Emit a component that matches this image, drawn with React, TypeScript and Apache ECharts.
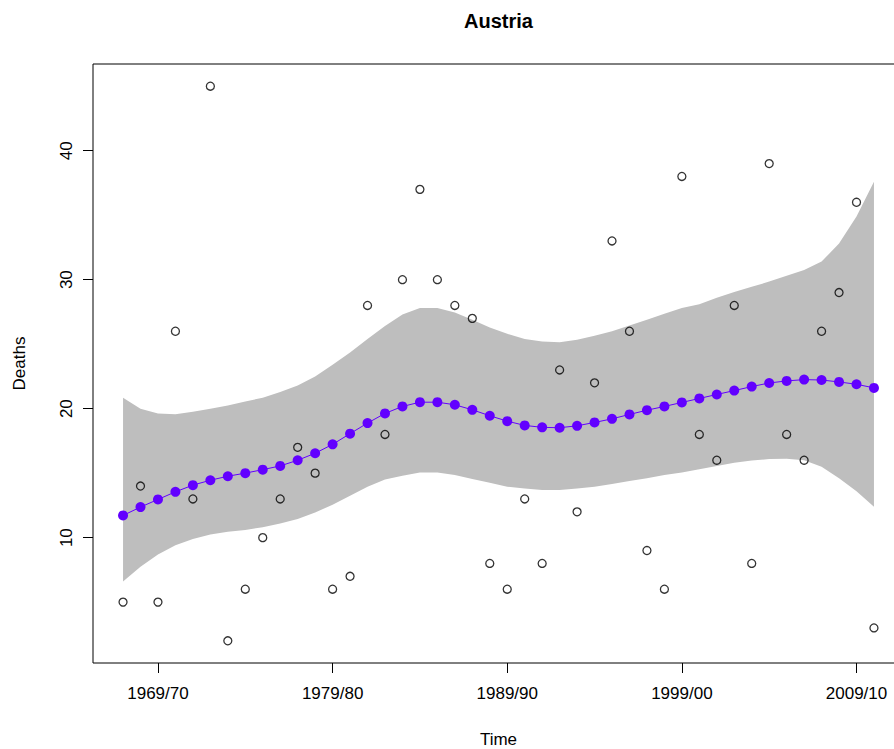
import React, { useEffect, useRef } from "react";
import * as echarts from "echarts";

const years = [
  1967, 1968, 1969, 1970, 1971, 1972, 1973, 1974, 1975, 1976, 1977, 1978, 1979, 1980, 1981,
  1982, 1983, 1984, 1985, 1986, 1987, 1988, 1989, 1990, 1991, 1992, 1993, 1994, 1995, 1996,
  1997, 1998, 1999, 2000, 2001, 2002, 2003, 2004, 2005, 2006, 2007, 2008, 2009, 2010,
];

const deaths = [
  5, 14, 5, 26, 13, 45, 2, 6, 10, 13, 17, 15, 6, 7, 28, 18, 30, 37, 30, 28, 27, 8, 6, 13, 8, 23,
  12, 22, 33, 26, 9, 6, 38, 18, 16, 28, 8, 39, 18, 16, 26, 29, 36, 3,
];

const fitted = [
  11.72, 12.37, 12.96, 13.55, 14.07, 14.45, 14.76, 15.0, 15.27, 15.56, 16.0, 16.54, 17.23,
  18.06, 18.88, 19.63, 20.17, 20.5, 20.5, 20.3, 19.91, 19.45, 19.03, 18.7, 18.55, 18.52, 18.67,
  18.93, 19.21, 19.55, 19.88, 20.17, 20.48, 20.79, 21.1, 21.4, 21.71, 21.99, 22.15, 22.25,
  22.22, 22.07, 21.89, 21.61,
];

const upper = [
  20.85, 20.0, 19.63, 19.57, 19.75, 20.0, 20.25, 20.55, 20.85, 21.3, 21.8, 22.5, 23.4, 24.35,
  25.4, 26.4, 27.3, 27.8, 27.8, 27.45, 26.9, 26.3, 25.8, 25.4, 25.2, 25.15, 25.35, 25.65, 26.0,
  26.45, 26.9, 27.35, 27.8, 28.1, 28.6, 29.05, 29.45, 29.85, 30.3, 30.75, 31.4, 32.8, 34.9, 37.6,
];

const lower = [
  6.6, 7.75, 8.7, 9.4, 9.9, 10.25, 10.45, 10.6, 10.8, 11.1, 11.45, 11.95, 12.55, 13.25, 13.95,
  14.5, 14.8, 15.05, 15.05, 14.85, 14.55, 14.25, 13.95, 13.8, 13.7, 13.7, 13.8, 13.95, 14.15,
  14.4, 14.6, 14.85, 15.05, 15.3, 15.55, 15.8, 15.97, 16.1, 16.12, 16.0, 15.5, 14.6, 13.6, 12.4,
];

const xTickValues = [1969, 1979, 1989, 1999, 2009];
const xTickLabels = ["1969/70", "1979/80", "1989/90", "1999/00", "2009/10"];
const yTickValues = [10, 20, 30, 40];

const FONT = "'Liberation Sans', Arial, Helvetica, sans-serif";

export default function App() {
  const ref = useRef<HTMLDivElement>(null);

  useEffect(() => {
    if (!ref.current) return;
    const chart = echarts.init(ref.current, null, { renderer: "svg" });

    const option = {
      animation: false,
      backgroundColor: "#ffffff",
      grid: {
        left: 93,
        top: 64,
        right: 6,
        bottom: 86,
        show: true,
        borderColor: "#000000",
        borderWidth: 1,
        backgroundColor: "transparent",
      },
      xAxis: {
        type: "value",
        min: 1965.28,
        max: 2011.72,
        axisLine: { show: false },
        splitLine: { show: false },
        axisTick: {
          show: true,
          length: 10,
          customValues: xTickValues,
          lineStyle: { color: "#000", width: 1 },
        },
        axisLabel: {
          customValues: xTickValues,
          formatter: (v: number) => {
            const i = xTickValues.indexOf(Math.round(v));
            return i >= 0 ? xTickLabels[i] : "";
          },
          color: "#000",
          fontSize: 17,
          fontFamily: FONT,
          margin: 22,
        },
      },
      yAxis: {
        type: "value",
        min: 0.28,
        max: 46.72,
        axisLine: { show: false },
        splitLine: { show: false },
        axisTick: {
          show: true,
          length: 10,
          customValues: yTickValues,
          lineStyle: { color: "#000", width: 1 },
        },
        axisLabel: {
          customValues: yTickValues,
          rotate: 90,
          color: "#000",
          fontSize: 17,
          fontFamily: FONT,
          margin: 18,
        },
      },
      graphic: [
        {
          type: "text",
          x: 498.5,
          y: 21,
          style: {
            text: "Austria",
            fill: "#000",
            font: `bold 20px ${FONT}`,
            textAlign: "center",
            textVerticalAlign: "middle",
          },
        },
        {
          type: "text",
          x: 498.5,
          y: 739,
          style: {
            text: "Time",
            fill: "#000",
            font: `17px ${FONT}`,
            textAlign: "center",
            textVerticalAlign: "middle",
          },
        },
        {
          type: "text",
          x: 19,
          y: 363.5,
          rotation: Math.PI / 2,
          style: {
            text: "Deaths",
            fill: "#000",
            font: `17px ${FONT}`,
            textAlign: "center",
            textVerticalAlign: "middle",
          },
        },
      ],
      series: [
        {
          type: "custom",
          name: "band",
          silent: true,
          z: 1,
          data: [0],
          renderItem: (_params: any, api: any) => {
            const pts: number[][] = [];
            for (let i = 0; i < years.length; i++) {
              pts.push(api.coord([years[i], upper[i]]));
            }
            for (let i = years.length - 1; i >= 0; i--) {
              pts.push(api.coord([years[i], lower[i]]));
            }
            return {
              type: "polygon",
              shape: { points: pts },
              style: { fill: "#BEBEBE", stroke: "none" },
            };
          },
        },
        {
          type: "line",
          name: "fitted",
          z: 3,
          data: years.map((y, i) => [y, fitted[i]]),
          symbol: "circle",
          symbolSize: 10,
          showSymbol: true,
          lineStyle: { color: "#6200FF", width: 1 },
          itemStyle: { color: "#6200FF", borderWidth: 0 },
        },
        {
          type: "scatter",
          name: "deaths",
          z: 4,
          data: years.map((y, i) => [y, deaths[i]]),
          symbol: "circle",
          symbolSize: 8,
          itemStyle: {
            color: "rgba(0,0,0,0)",
            borderColor: "#000",
            borderWidth: 1.3,
          },
        },
      ],
    };

    chart.setOption(option as any);
    return () => {
      chart.dispose();
    };
  }, []);

  return (
    <div
      style={{
        position: "fixed",
        left: 0,
        top: 0,
        width: 894,
        height: 749,
        overflow: "hidden",
        background: "#fff",
      }}
    >
      <div ref={ref} style={{ width: 910, height: 749 }} />
    </div>
  );
}
